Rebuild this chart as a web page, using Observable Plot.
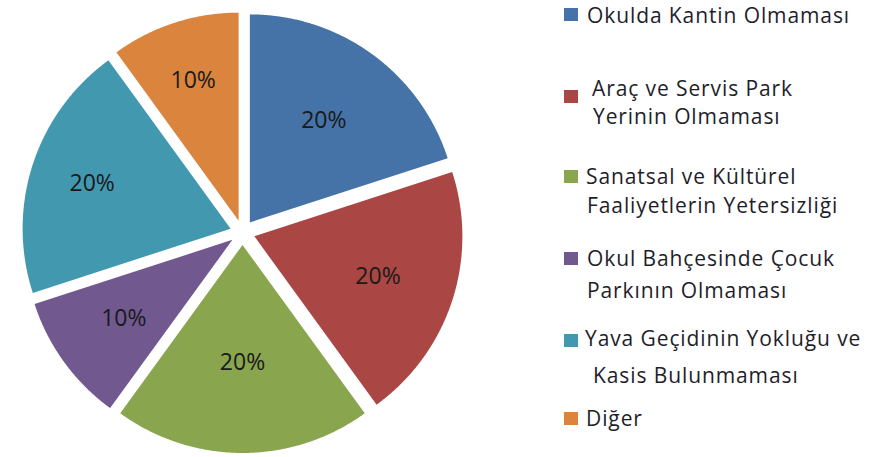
<!DOCTYPE html>
<html><head><meta charset="utf-8">
<script src="https://cdn.jsdelivr.net/npm/d3@7"></script>
<script src="https://cdn.jsdelivr.net/npm/@observablehq/plot@0.6"></script>
<style>
body{margin:0;background:#fff;}
#wrap{position:relative;width:886px;height:457px;font-family:"Open Sans",sans-serif;overflow:hidden;}
#chart{position:absolute;left:0;top:0;}
.sw{position:absolute;width:14px;height:13px;}
.lg{position:absolute;font-size:21px;letter-spacing:0.9px;color:#1e1e2a;white-space:nowrap;line-height:1;transform:translateY(-55%);}
</style></head><body><div id="wrap"><div id="chart"></div></div>
<script>
// ---- data ----
const categories = ["Okulda Kantin Olmaması", "Araç ve Servis Park Yerinin Olmaması", "Sanatsal ve Kültürel Faaliyetlerin Yetersizliği", "Okul Bahçesinde Çocuk Parkının Olmaması", "Yava Geçidinin Yokluğu ve Kasis Bulunmaması", "Diğer"];
const values = [20, 20, 20, 10, 20, 10];
const percentLabels = ["20%", "20%", "20%", "10%", "20%", "10%"];
const legendLines = [
  ["Okulda Kantin Olmaması"],
  ["Araç ve Servis Park", "Yerinin Olmaması"],
  ["Sanatsal ve Kültürel", "Faaliyetlerin Yetersizliği"],
  ["Okul Bahçesinde Çocuk", "Parkının Olmaması"],
  ["Yava Geçidinin Yokluğu ve", "Kasis Bulunmaması"],
  ["Diğer"]
];
const colors = ["#4572A7", "#AA4643", "#89A54E", "#71588F", "#4198AF", "#DB843D"];

// ---- layout (not data) ----
const explode = 0.06;
const labelR = [0.605, 0.625, 0.565, 0.645, 0.70, 0.707];
const swatchY = [14, 96, 176, 258, 340, 418];
const lineY = [[17], [90, 118], [178, 207], [260, 292], [340, 377], [420]];
const lineX = [[587], [592, 593], [586, 587], [587, 587], [585, 593], [586]];

const arcs = d3.pie().sort(null).startAngle(0).endAngle(2 * Math.PI)(values);
const pts = [];
const labels = [];
arcs.forEach((a, i) => {
  const m = (a.startAngle + a.endAngle) / 2;
  const cx = explode * Math.sin(m), cy = explode * Math.cos(m);
  pts.push({cat: categories[i], x: cx, y: cy});
  const n = Math.max(2, Math.ceil((a.endAngle - a.startAngle) / 0.005));
  for (let k = 0; k <= n; k++) {
    const t = a.startAngle + (a.endAngle - a.startAngle) * k / n;
    pts.push({cat: categories[i], x: cx + Math.sin(t), y: cy + Math.cos(t)});
  }
  labels.push({x: cx + labelR[i] * Math.sin(m), y: cy + labelR[i] * Math.cos(m), text: percentLabels[i]});
});

const chart = Plot.plot({
  width: 490, height: 457, margin: 0,
  x: {domain: [-1, 1], range: [34, 450], axis: null},
  y: {domain: [-1, 1], range: [440, 24], axis: null},
  color: {domain: categories, range: colors},
  marks: [
    Plot.line(pts, {x: "x", y: "y", z: "cat", fill: "cat", stroke: "none", curve: "linear-closed"}),
    Plot.text(labels, {x: "x", y: "y", text: "text", fontSize: 23, fontFamily: "Open Sans", fill: "#1a1a1a"})
  ]
});
document.getElementById("chart").appendChild(chart);

const wrap = document.getElementById("wrap");
legendLines.forEach((lines, i) => {
  const sw = document.createElement("div");
  sw.className = "sw";
  sw.style.left = "564px";
  sw.style.top = (swatchY[i] - 6.5) + "px";
  sw.style.background = colors[i];
  wrap.appendChild(sw);
  lines.forEach((t, j) => {
    const s = document.createElement("div");
    s.className = "lg";
    s.textContent = t;
    s.style.left = lineX[i][j] + "px";
    s.style.top = lineY[i][j] + "px";
    wrap.appendChild(s);
  });
});
</script></body></html>
